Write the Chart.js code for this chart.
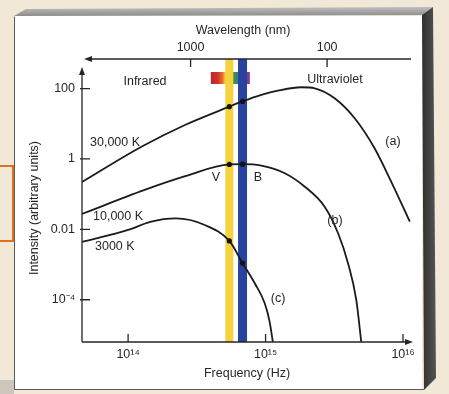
<!DOCTYPE html>
<html>
<head>
<meta charset="utf-8">
<script src="https://cdn.jsdelivr.net/npm/chart.js@4.4.1/dist/chart.umd.min.js"></script>
<style>
  html, body { margin: 0; padding: 0; background: #f1e8d7; }
  #wrap { position: relative; width: 449px; height: 394px; }
</style>
</head>
<body>
<div id="wrap"><canvas id="bb" width="449" height="394"></canvas></div>
<script>
// Blackboard spectra: frequency (Hz) vs intensity (arbitrary units)
const freqA = [4.62e13, 1.25e14, 2.59e14, 5.45e14, 6.8e14, 9.31e14, 1.23e15, 1.82e15, 2.28e15, 3.18e15, 4.45e15, 6.21e15, 8.2e15, 1.12e16];
const intA  = [0.222, 2.23, 9.25, 30.6, 43.0, 65.8, 87.1, 109, 102, 53, 14.3, 2.01, 0.226, 0.0166];

const freqB = [4.62e13, 1.32e14, 2.64e14, 5.45e14, 6.8e14, 9.31e14, 1.38e15, 1.93e15, 2.69e15, 3.37e15, 3.98e15, 4.57e15, 5.0e15];
const intB  = [0.0274, 0.132, 0.329, 0.70, 0.71, 0.645, 0.393, 0.163, 0.0442, 0.00775, 0.00109, 9.9e-5, 5e-6];

const freqC = [4.62e13, 1.0e14, 1.45e14, 2.23e14, 3.61e14, 5.45e14, 6.8e14, 8.34e14, 9.86e14, 1.07e15, 1.14e15];
const intC  = [0.00439, 0.00962, 0.0163, 0.0204, 0.0133, 0.00468, 0.0011, 0.000294, 7.96e-5, 2.4e-5, 5e-6];

// V and B filter centres (Hz) and the visible window (nm)
const BAND_V = 5.45e14;
const BAND_B = 6.8e14;
const VISIBLE_NM = [750, 390];
const C_NM = 2.998e17; // speed of light in nm/s

// axes
const freqTicks = [1e14, 1e15, 1e16];
const freqTickLabels = ['10¹⁴', '10¹⁵', '10¹⁶'];
const intTicks = [1e-4, 0.01, 1, 100];
const intTickLabels = ['10⁻⁴', '0.01', '1', '100'];
const waveTicks = [100, 1000];
const waveTickLabels = ['100', '1000'];

const FREQ_RANGE = [4.62e13, 1.143e16];
const INT_RANGE = [6.3e-6, 692];
const WAVE_RANGE = [24.3, 6240];

const INK = '#262626';
const FONT = '"Liberation Sans", Arial, sans-serif';

const pts = (xs, ys) => xs.map((x, i) => ({ x: x, y: ys[i] }));

function curve(xs, ys) {
    return {
        data: pts(xs, ys),
        showLine: true,
        borderColor: '#1b1b1b',
        borderWidth: 1.8,
        pointRadius: 0,
        cubicInterpolationMode: 'monotone',
        order: 1
    };
}

function band(freq, color, width) {
    return {
        data: [{ x: freq, y: INT_RANGE[0] }, { x: freq, y: INT_RANGE[1] }],
        showLine: true,
        borderColor: color,
        borderWidth: width,
        borderCapStyle: 'butt',
        pointRadius: 0,
        order: 5
    };
}

// dots where each curve crosses the V and B bands
const dots = [];
[[freqA, intA], [freqB, intB], [freqC, intC]].forEach(([xs, ys]) => {
    [BAND_V, BAND_B].forEach(f => dots.push({ x: f, y: ys[xs.indexOf(f)] }));
});

const labels = [
    { t: 'Infrared', x: 145, y: 85, a: 'center' },
    { t: 'Ultraviolet', x: 335, y: 83, a: 'center' },
    { t: '30,000 K', x: 90, y: 146, a: 'left' },
    { t: '(a)', x: 393, y: 145, a: 'center' },
    { t: 'V', x: 216, y: 181, a: 'center' },
    { t: 'B', x: 258, y: 181, a: 'center' },
    { t: '10,000 K', x: 93, y: 220, a: 'left' },
    { t: '(b)', x: 335, y: 224, a: 'center' },
    { t: '3000 K', x: 95, y: 250, a: 'left' },
    { t: '(c)', x: 278, y: 302, a: 'center' }
];

function poly(ctx, p, fill) {
    ctx.beginPath();
    ctx.moveTo(p[0][0], p[0][1]);
    for (let i = 1; i < p.length; i++) ctx.lineTo(p[i][0], p[i][1]);
    ctx.closePath();
    ctx.fillStyle = fill;
    ctx.fill();
}

function arrow(ctx, tipX, tipY, dx, dy) {
    // dx,dy: unit direction the arrow points to
    const len = 8, half = 3;
    const bx = tipX - dx * len, by = tipY - dy * len;
    ctx.beginPath();
    ctx.moveTo(tipX, tipY);
    ctx.lineTo(bx - dy * half, by + dx * half);
    ctx.lineTo(bx + dy * half, by - dx * half);
    ctx.closePath();
    ctx.fill();
}

const boardPlugin = {
    id: 'board',
    beforeDraw(chart) {
        const ctx = chart.ctx;
        ctx.save();
        ctx.fillStyle = '#f1e8d7';
        ctx.fillRect(0, 0, chart.width, chart.height);
        ctx.fillStyle = '#cdc6ba';
        ctx.fillRect(0, 380, 14, 14);

        // orange marker on the left edge
        ctx.strokeStyle = '#e0701e';
        ctx.lineWidth = 2;
        ctx.strokeRect(-2, 166, 15, 75);

        // white board with bevelled top and dark right side
        ctx.fillStyle = '#ffffff';
        ctx.fillRect(14, 16, 408, 373);
        const g = ctx.createLinearGradient(0, 8, 0, 16);
        g.addColorStop(0, '#b9b9b9');
        g.addColorStop(1, '#8c8c8c');
        poly(ctx, [[14, 16], [26, 9], [433, 7], [422, 15]], g);
        const s = ctx.createLinearGradient(422, 0, 436, 0);
        s.addColorStop(0, '#2f2f2f');
        s.addColorStop(1, '#555555');
        poly(ctx, [[422, 15], [433, 7], [436, 378], [424, 390]], s);
        ctx.strokeStyle = '#5a5a5a';
        ctx.lineWidth = 1;
        ctx.beginPath();
        ctx.moveTo(14.5, 16.5); ctx.lineTo(14.5, 389.5); ctx.lineTo(424, 389.5);
        ctx.stroke();
        ctx.restore();
    },
    beforeDatasetsDraw(chart) {
        // visible spectrum swatch under the filter bands
        const ctx = chart.ctx, x = chart.scales.x, top = chart.chartArea.top;
        const x0 = x.getPixelForValue(C_NM / VISIBLE_NM[0]);
        const x1 = x.getPixelForValue(C_NM / VISIBLE_NM[1]);
        const g = ctx.createLinearGradient(x0, 0, x1, 0);
        g.addColorStop(0, '#b8262c');
        g.addColorStop(0.18, '#d23526');
        g.addColorStop(0.3, '#e6702a');
        g.addColorStop(0.36, '#f2c83c');
        g.addColorStop(0.53, '#f2cf40');
        g.addColorStop(0.56, '#3f9447');
        g.addColorStop(0.66, '#2f8d5c');
        g.addColorStop(0.69, '#3478c4');
        g.addColorStop(0.84, '#3a5ab0');
        g.addColorStop(0.87, '#7a3c98');
        g.addColorStop(1, '#873a92');
        ctx.save();
        ctx.fillStyle = g;
        ctx.fillRect(x0, top + 13, x1 - x0, 12);
        ctx.restore();
    },
    afterDatasetsDraw(chart) {
        const ctx = chart.ctx, a = chart.chartArea;
        const { x, y, x2 } = chart.scales;
        ctx.save();
        ctx.strokeStyle = INK;
        ctx.fillStyle = INK;
        ctx.lineWidth = 1.3;

        // axis lines
        ctx.beginPath();
        ctx.moveTo(a.left, a.bottom); ctx.lineTo(a.left, 74);
        ctx.moveTo(a.left, a.bottom); ctx.lineTo(a.right - 4, a.bottom);
        ctx.moveTo(a.left + 6, a.top); ctx.lineTo(a.right, a.top);
        ctx.stroke();
        arrow(ctx, a.left, 67, 0, -1);
        arrow(ctx, a.right + 2, a.bottom, 1, 0);
        arrow(ctx, a.left + 2, a.top, -1, 0);

        // inward tick marks
        ctx.beginPath();
        y.ticks.forEach(t => { const p = y.getPixelForValue(t.value); ctx.moveTo(a.left - 2, p); ctx.lineTo(a.left + 8, p); });
        x.ticks.forEach(t => { const p = x.getPixelForValue(t.value); ctx.moveTo(p, a.bottom); ctx.lineTo(p, a.bottom - 8); });
        x2.ticks.forEach(t => { const p = x2.getPixelForValue(t.value); ctx.moveTo(p, a.top); ctx.lineTo(p, a.top + 8); });
        ctx.stroke();

        // titles and annotations
        ctx.font = '12.5px ' + FONT;
        ctx.textBaseline = 'alphabetic';
        labels.forEach(l => { ctx.textAlign = l.a; ctx.fillText(l.t, l.x, l.y); });
        ctx.textAlign = 'center';
        ctx.fillText('Wavelength (nm)', 243, 34);
        ctx.fillText('Frequency (Hz)', 247, 377);
        ctx.translate(35, 208);
        ctx.rotate(-Math.PI / 2);
        ctx.textBaseline = 'middle';
        ctx.fillText('Intensity (arbitrary units)', 0, 0);
        ctx.restore();
    }
};

Chart.defaults.font.family = FONT;
Chart.defaults.font.size = 12.5;
Chart.defaults.color = INK;

const hideGrid = { display: false, drawTicks: false };

new Chart(document.getElementById('bb'), {
    type: 'scatter',
    data: {
        datasets: [
            curve(freqA, intA),
            curve(freqB, intB),
            curve(freqC, intC),
            band(BAND_V, '#f5d23e', 8),
            band(BAND_B, '#28439e', 9),
            { data: dots, pointRadius: 2.6, pointBackgroundColor: '#111', pointBorderWidth: 0, order: 0 }
        ]
    },
    options: {
        responsive: false,
        animation: false,
        devicePixelRatio: 1,
        layout: { padding: { left: 0, top: 0, right: 38, bottom: 0 } },
        plugins: { legend: { display: false }, tooltip: { enabled: false } },
        scales: {
            x: {
                type: 'logarithmic', position: 'bottom',
                min: FREQ_RANGE[0], max: FREQ_RANGE[1],
                grid: hideGrid, border: { display: false },
                afterBuildTicks: s => { s.ticks = freqTicks.map(v => ({ value: v })); },
                afterFit: s => { s.height = 52; },
                ticks: { padding: 5, autoSkip: false, maxRotation: 0,
                    callback: v => freqTickLabels[freqTicks.indexOf(v)] }
            },
            x2: {
                type: 'logarithmic', position: 'top', reverse: true,
                min: WAVE_RANGE[0], max: WAVE_RANGE[1],
                grid: hideGrid, border: { display: false },
                afterBuildTicks: s => { s.ticks = waveTicks.map(v => ({ value: v })); },
                afterFit: s => { s.height = 59; },
                ticks: { padding: 4, autoSkip: false, maxRotation: 0,
                    callback: v => waveTickLabels[waveTicks.indexOf(v)] }
            },
            y: {
                type: 'logarithmic', position: 'left',
                min: INT_RANGE[0], max: INT_RANGE[1],
                grid: hideGrid, border: { display: false },
                afterBuildTicks: s => { s.ticks = intTicks.map(v => ({ value: v })); },
                afterFit: s => { s.width = 82; },
                ticks: { padding: 7, autoSkip: false,
                    callback: v => intTickLabels[intTicks.indexOf(v)] }
            }
        }
    },
    plugins: [boardPlugin]
});
</script>
</body>
</html>
